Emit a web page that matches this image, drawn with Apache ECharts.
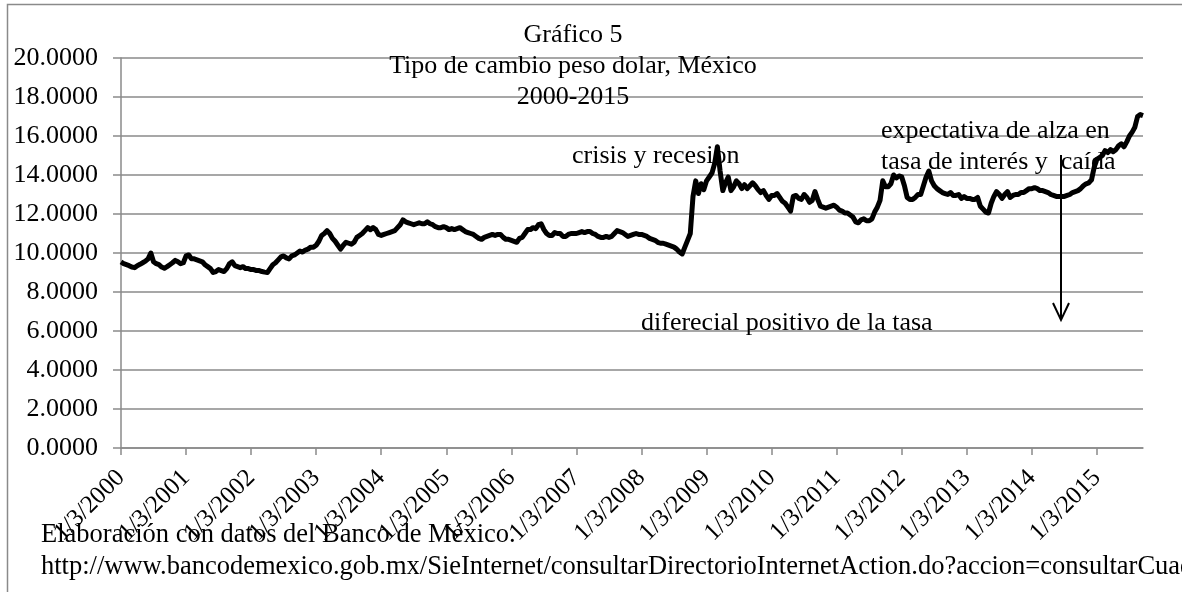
<!DOCTYPE html>
<html>
<head>
<meta charset="utf-8">
<script src="https://cdn.jsdelivr.net/npm/echarts@6/dist/echarts.min.js"></script>
<style>
  html, body { margin: 0; padding: 0; background: #fff; }
  #container { width: 1182px; height: 592px; }
</style>
</head>
<body>
<div id="container"></div>
<script>
// tipo de cambio, dos lecturas por mes (dia 3 y 18)
var rates2000 = [9.54, 9.45, 9.40, 9.35, 9.28, 9.25, 9.35, 9.42, 9.50, 9.58, 9.70, 10.00, 9.55, 9.45, 9.40, 9.28, 9.22, 9.30, 9.40, 9.50, 9.62, 9.55, 9.45, 9.50];
var rates2001 = [9.85, 9.90, 9.70, 9.70, 9.65, 9.60, 9.55, 9.40, 9.30, 9.20, 9.00, 9.05, 9.15, 9.10, 9.05, 9.20, 9.45, 9.55, 9.35, 9.30, 9.25, 9.30, 9.20, 9.20];
var rates2002 = [9.15, 9.15, 9.10, 9.10, 9.05, 9.02, 9.00, 9.20, 9.40, 9.50, 9.65, 9.80, 9.85, 9.75, 9.70, 9.85, 9.90, 10.00, 10.10, 10.05, 10.15, 10.20, 10.30, 10.30];
var rates2003 = [10.40, 10.60, 10.90, 11.00, 11.15, 11.00, 10.75, 10.60, 10.40, 10.20, 10.40, 10.55, 10.50, 10.45, 10.55, 10.80, 10.90, 11.00, 11.15, 11.30, 11.20, 11.30, 11.20, 10.95];
var rates2004 = [10.90, 10.95, 11.00, 11.05, 11.10, 11.15, 11.30, 11.45, 11.70, 11.60, 11.55, 11.50, 11.45, 11.50, 11.55, 11.50, 11.50, 11.60, 11.50, 11.45, 11.35, 11.30, 11.30, 11.35];
var rates2005 = [11.30, 11.20, 11.25, 11.20, 11.25, 11.30, 11.20, 11.10, 11.05, 11.00, 10.95, 10.85, 10.75, 10.70, 10.80, 10.85, 10.90, 10.95, 10.90, 10.95, 10.95, 10.80, 10.70, 10.70];
var rates2006 = [10.65, 10.60, 10.55, 10.75, 10.80, 11.00, 11.20, 11.20, 11.30, 11.25, 11.45, 11.50, 11.20, 11.00, 10.90, 10.90, 11.05, 11.00, 11.00, 10.85, 10.85, 10.95, 11.00, 11.00];
var rates2007 = [11.00, 11.05, 11.10, 11.05, 11.10, 11.10, 11.00, 10.95, 10.85, 10.80, 10.80, 10.85, 10.80, 10.85, 11.00, 11.15, 11.10, 11.05, 10.95, 10.85, 10.90, 10.95, 11.00, 10.95];
var rates2008 = [10.95, 10.90, 10.85, 10.75, 10.70, 10.65, 10.55, 10.50, 10.50, 10.45, 10.40, 10.35, 10.30, 10.20, 10.05, 9.95, 10.30, 10.65, 11.00, 12.90, 13.70, 13.05, 13.55, 13.25];
var rates2009 = [13.70, 13.90, 14.10, 14.60, 15.45, 14.20, 13.20, 13.60, 13.90, 13.20, 13.40, 13.70, 13.55, 13.30, 13.50, 13.30, 13.45, 13.60, 13.45, 13.25, 13.10, 13.20, 12.95, 12.75];
var rates2010 = [12.95, 12.95, 13.05, 12.85, 12.65, 12.55, 12.35, 12.15, 12.90, 12.95, 12.80, 12.75, 13.00, 12.85, 12.60, 12.70, 13.15, 12.75, 12.40, 12.35, 12.30, 12.35, 12.40, 12.45];
var rates2011 = [12.35, 12.20, 12.15, 12.05, 12.05, 11.95, 11.85, 11.60, 11.55, 11.70, 11.75, 11.65, 11.65, 11.75, 12.10, 12.35, 12.70, 13.70, 13.40, 13.40, 13.55, 14.00, 13.85, 13.95];
var rates2012 = [13.90, 13.45, 12.85, 12.75, 12.75, 12.85, 13.00, 13.00, 13.45, 13.90, 14.20, 13.70, 13.45, 13.30, 13.20, 13.10, 13.05, 13.00, 13.10, 12.95, 12.95, 13.00, 12.80, 12.90];
var rates2013 = [12.80, 12.80, 12.75, 12.75, 12.85, 12.40, 12.25, 12.10, 12.05, 12.55, 12.90, 13.15, 13.00, 12.80, 13.00, 13.15, 12.85, 12.95, 13.00, 13.00, 13.10, 13.10, 13.20, 13.30];
var rates2014 = [13.30, 13.35, 13.30, 13.20, 13.20, 13.15, 13.10, 13.00, 12.95, 12.90, 12.90, 12.90, 12.90, 12.95, 13.00, 13.10, 13.15, 13.20, 13.30, 13.45, 13.55, 13.60, 13.75, 14.40];
var rates2015 = [14.80, 14.90, 15.00, 15.25, 15.15, 15.30, 15.20, 15.30, 15.50, 15.60, 15.45, 15.70, 16.00, 16.20, 16.45, 17.00, 17.10, 17.05];

var yearRates = [
    [2000, rates2000], [2001, rates2001], [2002, rates2002], [2003, rates2003],
    [2004, rates2004], [2005, rates2005], [2006, rates2006], [2007, rates2007],
    [2008, rates2008], [2009, rates2009], [2010, rates2010], [2011, rates2011],
    [2012, rates2012], [2013, rates2013], [2014, rates2014], [2015, rates2015]
];

var yMin = 0, yMax = 20, yStep = 2;

var titleLines = ['Gráfico 5', 'Tipo de cambio peso dolar, México', '2000-2015'];
var noteCrisis = 'crisis y recesion';
var noteAlza = ['expectativa de alza en', 'tasa de interés y  caída'];
var noteDiferencial = 'diferecial positivo de la tasa';
var fuente = ['Elaboración con datos del Banco de México.',
    'http://www.bancodemexico.gob.mx/SieInternet/consultarDirectorioInternetAction.do?accion=consultarCuadro'];

var fechas = [];
var valores = [];
yearRates.forEach(function(item){
    var y = item[0];
    item[1].forEach(function(v, k){
        var mes = Math.floor(k / 2) + 1;
        var dia = k % 2 ? 18 : 3;
        fechas.push(mes + '/' + dia + '/' + y);
        valores.push(v);
    });
});

var serif = '"Liberation Serif", "Times New Roman", serif';
var gris = '#8a8a8a';

var dom = document.querySelector('#container');
var myChart = echarts.init(dom);

var option = {
    animation: false,
    grid: { left: 121, right: 39, top: 58, bottom: 144 },
    xAxis: {
        type: 'category',
        boundaryGap: false,
        data: fechas,
        axisLine: { lineStyle: { color: gris, width: 1.5 } },
        axisTick: { show: true, interval: 23, length: 7, lineStyle: { color: gris, width: 1.5 } },
        axisLabel: {
            interval: 23,
            rotate: 45,
            margin: 26,
            color: '#000',
            fontFamily: serif,
            fontSize: 25
        },
        splitLine: { show: false }
    },
    yAxis: {
        type: 'value',
        min: yMin,
        max: yMax,
        interval: yStep,
        axisLine: { show: true, lineStyle: { color: gris, width: 1.5 } },
        axisTick: { show: true, length: 8, lineStyle: { color: gris, width: 1.5 } },
        axisLabel: {
            margin: 23,
            color: '#000',
            fontFamily: serif,
            fontSize: 26,
            formatter: function(v){ return v.toFixed(4); }
        },
        splitLine: { lineStyle: { color: gris, width: 1.5 } }
    },
    series: [{
        type: 'line',
        data: valores,
        showSymbol: false,
        lineStyle: { color: '#000', width: 5, join: 'round' },
        z: 3
    }],
    graphic: [
        { type: 'rect', z: -1, shape: { x: 7.5, y: 4.5, width: 1400, height: 800 },
          style: { fill: 'none', stroke: gris, lineWidth: 1.5 } },
        { type: 'text', z: 10, x: 573, y: 19.5,
          style: { text: titleLines.join('\n'), font: '26px ' + serif, fill: '#000',
                   align: 'center', verticalAlign: 'top', lineHeight: 31 } },
        { type: 'text', z: 10, x: 572, y: 156,
          style: { text: noteCrisis, font: '26px ' + serif, fill: '#000', verticalAlign: 'middle' } },
        { type: 'text', z: 10, x: 881, y: 116,
          style: { text: noteAlza.join('\n'), font: '26px ' + serif, fill: '#000',
                   verticalAlign: 'top', lineHeight: 31 } },
        { type: 'text', z: 10, x: 641, y: 323,
          style: { text: noteDiferencial, font: '26px ' + serif, fill: '#000', verticalAlign: 'middle' } },
        { type: 'line', z: 10, shape: { x1: 1061, y1: 155, x2: 1061, y2: 320 },
          style: { stroke: '#000', lineWidth: 2 } },
        { type: 'polyline', z: 10, shape: { points: [[1053, 303], [1061, 320], [1069, 303]] },
          style: { stroke: '#000', lineWidth: 2, fill: 'none' } },
        { type: 'text', z: 10, x: 41, y: 535,
          style: { text: fuente[0], font: '26.5px ' + serif, fill: '#000', verticalAlign: 'middle' } },
        { type: 'text', z: 10, x: 41, y: 567,
          style: { text: fuente[1], font: '26.5px ' + serif, fill: '#000', verticalAlign: 'middle' } }
    ]
};

myChart.setOption(option);
</script>
</body>
</html>
